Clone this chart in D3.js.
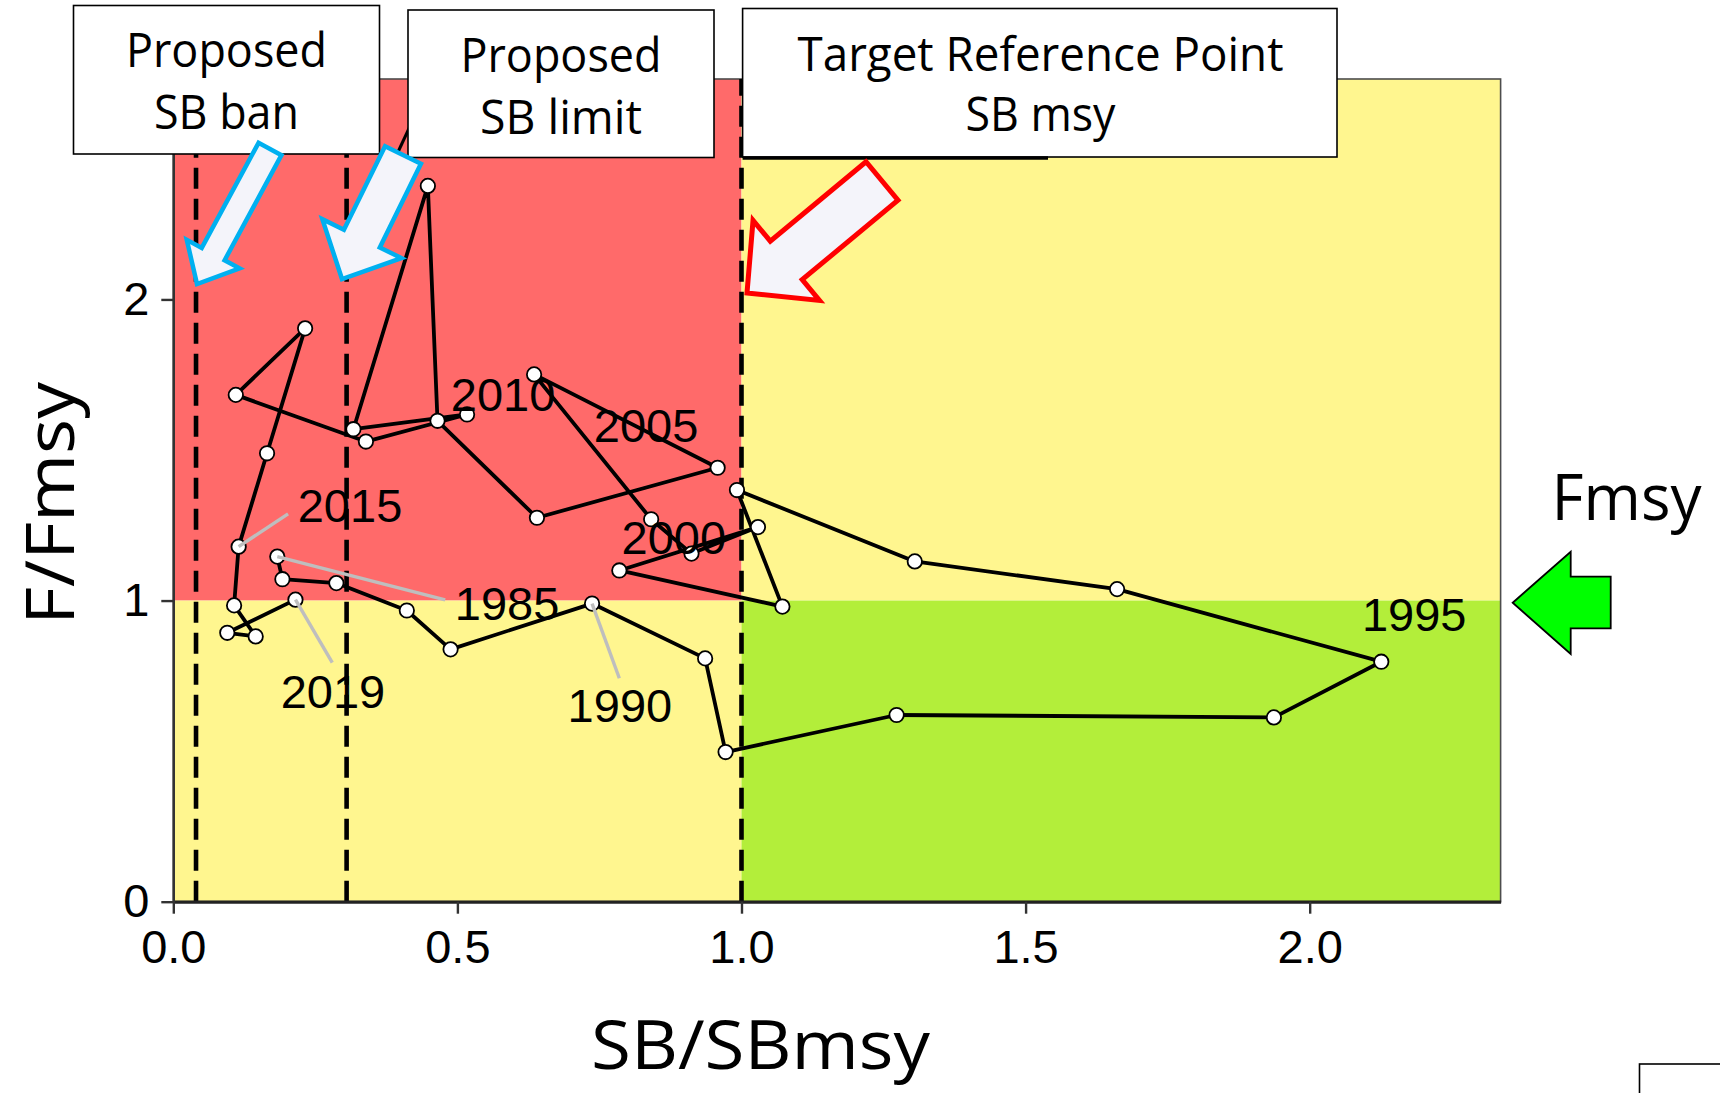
<!DOCTYPE html>
<html>
<head>
<meta charset="utf-8">
<script src="https://cdn.jsdelivr.net/npm/d3@7"></script>
<style>
  html, body { margin: 0; padding: 0; background: #ffffff; }
  svg { display: block; }
</style>
</head>
<body>
<div id="chart"></div>
<script>
// ---------------- DATA ----------------
const years   = [1985,1986,1987,1988,1989,1990,1991,1992,1993,1994,1995,1996,1997,1998,1999,
                 2000,2001,2002,2003,2004,2005,2006,2007,2008,2009,2010,2011,2012,2013,2014,
                 2015,2016,2017,2018,2019];
const sbRatio = [0.183,0.192,0.287,0.411,0.488,0.737,0.936,0.972,1.273,1.937,2.126,1.661,1.305,0.992,1.072,
                 0.785,1.029,0.912,0.841,0.635,0.958,0.640,0.465,0.448,0.317,0.517,0.339,0.110,0.232,0.165,
                 0.115,0.107,0.145,0.095,0.215];
const fRatio  = [1.146,1.071,1.058,0.967,0.838,0.990,0.808,0.497,0.620,0.612,0.797,1.038,1.130,1.367,0.980,
                 1.100,1.244,1.156,1.270,1.751,1.441,1.275,1.597,2.377,1.569,1.618,1.528,1.683,1.904,1.489,
                 1.179,0.984,0.881,0.893,1.003];

const xTicks = [0, 0.5, 1.0, 1.5, 2.0];
const yTicks = [0, 1, 2];
const xDomainMax = 2.336;
const yDomainMax = 2.732;
const refLines = [0.04, 0.305, 1.0];

// year labels placed in data units (label centre x, baseline y)
const labelYears = [1985, 1990, 1995, 2000, 2005, 2010, 2015, 2019];
const labelX     = [0.5875, 0.786, 2.184, 0.881, 0.832, 0.5805, 0.311, 0.281];
const labelY     = [0.9356, 0.597, 0.899, 1.155, 1.528, 1.630, 1.261, 0.643];
// leader lines (from the year's point to these ends), data units
const leaderYears = [2015, 1985, 2019, 1990];
const leaderEndX  = [0.202, 0.4785, 0.2798, 0.785];
const leaderEndY  = [1.288, 1.002, 0.794, 0.742];

const boxLine1 = ["Proposed", "Proposed", "Target Reference Point"];
const boxLine2 = ["SB ban", "SB limit", "SB msy"];

// ---------------- LAYOUT ----------------
const W = 1720, H = 1093;
const svg = d3.select("#chart").append("svg").attr("width", W).attr("height", H);

const x = d3.scaleLinear().domain([0, xDomainMax]).range([173.3, 1500.6]);
const y = d3.scaleLinear().domain([0, yDomainMax]).range([901.7, 79]);

const RED = "#FF6A6A", YEL = "#FFF68F", GRN = "#B3EE3A";

// zone backgrounds
const zones = [
  {x0: 0, x1: 1, y0: 1, y1: yDomainMax, c: RED},
  {x0: 0, x1: 1, y0: 0, y1: 1, c: YEL},
  {x0: 1, x1: xDomainMax, y0: 1, y1: yDomainMax, c: YEL},
  {x0: 1, x1: xDomainMax, y0: 0, y1: 1, c: GRN}
];
svg.append("g").selectAll("rect").data(zones).join("rect")
  .attr("x", d => x(d.x0)).attr("y", d => y(d.y1))
  .attr("width", d => x(d.x1) - x(d.x0)).attr("height", d => y(d.y0) - y(d.y1))
  .attr("fill", d => d.c);

// panel border
svg.append("rect")
  .attr("x", x(0)).attr("y", y(yDomainMax))
  .attr("width", x(xDomainMax) - x(0)).attr("height", y(0) - y(yDomainMax))
  .attr("fill", "none").attr("stroke", "#4d4d4d").attr("stroke-width", 1.6);

// reference dashed lines
svg.append("g").selectAll("line").data(refLines).join("line")
  .attr("x1", d => x(d)).attr("x2", d => x(d))
  .attr("y1", y(0)).attr("y2", y(yDomainMax))
  .attr("stroke", "#000").attr("stroke-width", 4.6)
  .attr("stroke-dasharray", "21,10");

// axes
const xAxis = d3.axisBottom(x).tickValues(xTicks).tickFormat(d3.format(".1f"))
  .tickSize(12).tickSizeOuter(0).tickPadding(16);
const yAxis = d3.axisLeft(y).tickValues(yTicks).tickFormat(d3.format("d"))
  .tickSize(12).tickSizeOuter(0).tickPadding(12);

const gx = svg.append("g").attr("transform", `translate(0,${y(0)})`).call(xAxis);
const gy = svg.append("g").attr("transform", `translate(${x(0)},0)`).call(yAxis);
[gx, gy].forEach(g => {
  g.selectAll("text").attr("font-family", "'Liberation Sans', Arial, sans-serif")
    .attr("font-size", 47).attr("fill", "#000");
  g.selectAll(".tick line").attr("stroke", "#333").attr("stroke-width", 2.4);
});
gx.select(".domain").attr("stroke", "#222").attr("stroke-width", 3.2);
gy.select(".domain").attr("stroke", "#333").attr("stroke-width", 2.4);

// trajectory
const pts = years.map((yr, i) => ({yr, sb: sbRatio[i], f: fRatio[i]}));
const line = d3.line().x(d => x(d.sb)).y(d => y(d.f));
svg.append("path").datum(pts).attr("d", line)
  .attr("fill", "none").attr("stroke", "#000").attr("stroke-width", 3.8)
  .attr("stroke-linejoin", "round");

svg.append("g").selectAll("circle").data(pts).join("circle")
  .attr("cx", d => x(d.sb)).attr("cy", d => y(d.f)).attr("r", 7.2)
  .attr("fill", "#fff").attr("stroke", "#000").attr("stroke-width", 1.8);

// leader lines
const byYear = new Map(pts.map(p => [p.yr, p]));
svg.append("g").selectAll("line").data(leaderYears.map((yr, i) => ({yr, ex: leaderEndX[i], ey: leaderEndY[i]})))
  .join("line")
  .attr("x1", d => x(byYear.get(d.yr).sb)).attr("y1", d => y(byYear.get(d.yr).f))
  .attr("x2", d => x(d.ex)).attr("y2", d => y(d.ey))
  .attr("stroke", "#BEBEBE").attr("stroke-width", 3.4);

// year labels
svg.append("g").selectAll("text").data(labelYears.map((yr, i) => ({yr, lx: labelX[i], ly: labelY[i]})))
  .join("text")
  .attr("x", d => x(d.lx)).attr("y", d => y(d.ly))
  .attr("text-anchor", "middle")
  .attr("font-family", "'Liberation Sans', Arial, sans-serif")
  .attr("font-size", 47).attr("fill", "#000")
  .text(d => d.yr);

// axis titles
svg.append("text").attr("x", 760.5).attr("y", 1069)
  .attr("text-anchor", "middle").attr("font-family", "'Open Sans', sans-serif")
  .attr("font-size", 67).attr("textLength", 339).attr("lengthAdjust", "spacingAndGlyphs")
  .attr("fill", "#000").text("SB/SBmsy");

svg.append("text").attr("transform", "translate(74,503.5) rotate(-90)")
  .attr("text-anchor", "middle").attr("font-family", "'Open Sans', sans-serif")
  .attr("font-size", 68).attr("textLength", 243).attr("lengthAdjust", "spacingAndGlyphs")
  .attr("fill", "#000").text("F/Fmsy");

// Fmsy label + green arrow
svg.append("text").attr("x", 1551.5).attr("y", 520)
  .attr("font-family", "'Open Sans', sans-serif")
  .attr("font-size", 64).attr("textLength", 150).attr("lengthAdjust", "spacingAndGlyphs")
  .attr("fill", "#000").text("Fmsy");

svg.append("polygon")
  .attr("points", [[1512.7,602.7],[1570.7,551.7],[1570.7,576.7],[1610.7,576.7],
                   [1610.7,628.3],[1570.7,628.3],[1570.7,654]].map(p => p.join(",")).join(" "))
  .attr("fill", "#00FF00").attr("stroke", "#000").attr("stroke-width", 1.8)
  .attr("stroke-linejoin", "miter");

// stray segment near the boxes (as in the source figure)
svg.append("line").attr("x1", 398).attr("y1", 152).attr("x2", 412).attr("y2", 122)
  .attr("stroke", "#000").attr("stroke-width", 3);

// callout boxes
const boxes = [
  {x0: 73.5, y0: 5.5, x1: 379.5, y1: 154, cx: 226.5, b1: 67, b2: 129, w1: 201, w2: 145},
  {x0: 408, y0: 10, x1: 714, y1: 157.5, cx: 561, b1: 72, b2: 134, w1: 201, w2: 162},
  {x0: 742.6, y0: 8.5, x1: 1337, y1: 157, cx: 1040.5, b1: 71, b2: 131, w1: 486, w2: 150}
];
const gb = svg.append("g");
boxes.forEach((b, i) => {
  gb.append("rect").attr("x", b.x0).attr("y", b.y0)
    .attr("width", b.x1 - b.x0).attr("height", b.y1 - b.y0)
    .attr("fill", "#fff").attr("stroke", "#000").attr("stroke-width", 1.6);
  gb.append("text").attr("x", b.cx).attr("y", b.b1).attr("text-anchor", "middle")
    .attr("font-family", "'Open Sans', sans-serif").attr("font-size", 48)
    .attr("textLength", b.w1).attr("lengthAdjust", "spacingAndGlyphs")
    .attr("fill", "#000").text(boxLine1[i]);
  gb.append("text").attr("x", b.cx).attr("y", b.b2).attr("text-anchor", "middle")
    .attr("font-family", "'Open Sans', sans-serif").attr("font-size", 48)
    .attr("textLength", b.w2).attr("lengthAdjust", "spacingAndGlyphs")
    .attr("fill", "#000").text(boxLine2[i]);
});
// heavier segment under the third box
svg.append("line").attr("x1", 742.6).attr("x2", 1048).attr("y1", 158).attr("y2", 158)
  .attr("stroke", "#000").attr("stroke-width", 3.5);

// block arrows
function blockArrow(tx, ty, bx, by, sw, hw, hl) {
  const dx = tx - bx, dy = ty - by, L = Math.hypot(dx, dy);
  const ux = dx / L, uy = dy / L, px = -uy, py = ux;
  const jx = tx - ux * hl, jy = ty - uy * hl;
  const P = [
    [bx + px * sw / 2, by + py * sw / 2],
    [jx + px * sw / 2, jy + py * sw / 2],
    [jx + px * hw / 2, jy + py * hw / 2],
    [tx, ty],
    [jx - px * hw / 2, jy - py * hw / 2],
    [jx - px * sw / 2, jy - py * sw / 2],
    [bx - px * sw / 2, by - py * sw / 2]
  ];
  return P.map(p => p.join(",")).join(" ");
}
const arrows = [
  {pts: blockArrow(197, 284, 270, 149, 26, 60, 34), stroke: "#00B0F0", sw: 4.5},
  {pts: blockArrow(342, 279, 403, 155, 40, 88, 45), stroke: "#00B0F0", sw: 4.5},
  {pts: blockArrow(747, 293, 882, 181, 50, 104, 51), stroke: "#FF0000", sw: 5}
];
svg.append("g").selectAll("polygon").data(arrows).join("polygon")
  .attr("points", d => d.pts)
  .attr("fill", "#F4F4FA").attr("stroke", d => d.stroke).attr("stroke-width", d => d.sw)
  .attr("stroke-linejoin", "miter");

// partially visible frame at bottom right
svg.append("rect").attr("x", 1639.5).attr("y", 1064).attr("width", 200).attr("height", 100)
  .attr("fill", "#fff").attr("stroke", "#000").attr("stroke-width", 1.6);
</script>
</body>
</html>
